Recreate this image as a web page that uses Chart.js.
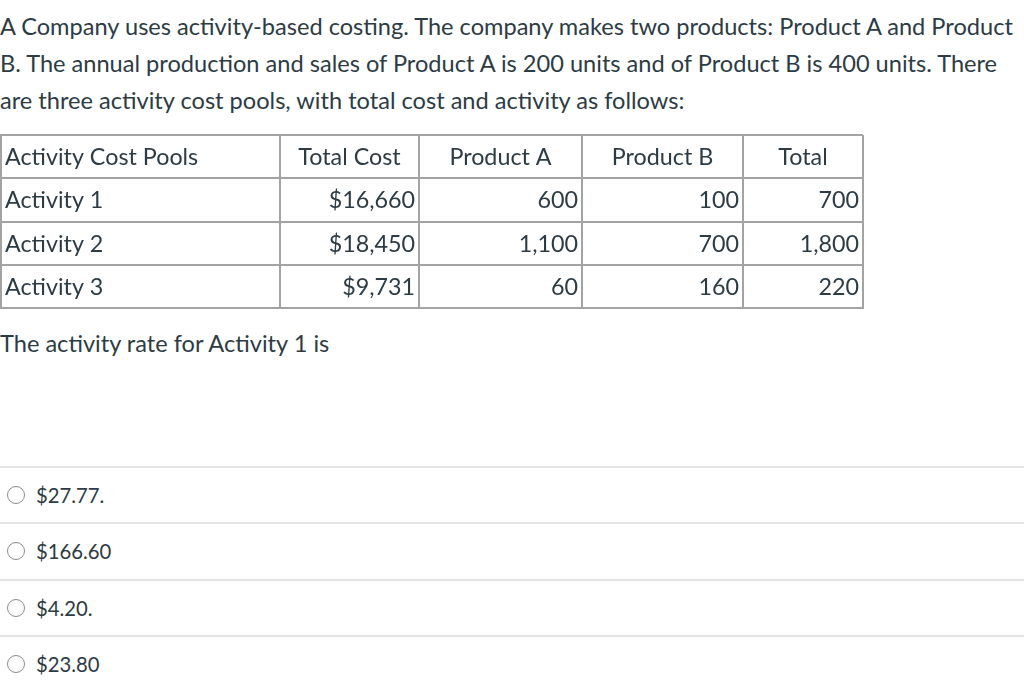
<!DOCTYPE html>
<html>
<head>
<meta charset="utf-8">
<script src="https://cdn.jsdelivr.net/npm/chart.js@4"></script>
<style>
  body { margin: 0; background: #fff; font-family: Lato, "Open Sans", sans-serif; color: #2d3b45; width: 1024px; height: 693px; overflow: hidden; position: relative; }
  #intro { position: absolute; left: 0; top: 8px; font-size: 23.6px; line-height: 37px; white-space: nowrap; }
  #tableWrap { position: absolute; left: 0; top: 134px; width: 864px; height: 175px; }
  #question { position: absolute; left: 0; top: 329px; font-size: 23.6px; line-height: 28px; white-space: nowrap; }
  .answer { position: absolute; left: 0; width: 1024px; height: 56px; border-top: 2px solid #e4e4e4; box-sizing: border-box; font-size: 20.3px; }
  .answer .radio { position: absolute; left: 7px; top: 18px; width: 16px; height: 16px; border: 1.5px solid #8b8b8b; border-radius: 50%; }
  .answer .label { position: absolute; left: 36px; top: 14px; line-height: 26px; }
</style>
</head>
<body>
<div id="intro">A Company uses activity-based costing. The company makes two products: Product A and Product<br>B. The annual production and sales of Product A is 200 units and of Product B is 400 units. There<br>are three activity cost pools, with total cost and activity as follows:</div>
<div id="tableWrap"><canvas id="tableChart"></canvas></div>
<div id="question">The activity rate for Activity 1 is</div>
<div id="answers"></div>
<script>
// table data
const columns = ['Activity Cost Pools', 'Total Cost', 'Product A', 'Product B', 'Total'];
const pools = ['Activity 1', 'Activity 2', 'Activity 3'];
const totalCost = [16660, 18450, 9731];
const productA = [600, 1100, 60];
const productB = [100, 700, 160];
const totals = [700, 1800, 220];
const answers = ['$27.77.', '$166.60', '$4.20.', '$23.80'];

// column edges in table pixels (layout only)
const colEdges = [0, 279, 418, 581, 742, 862];
const lineColor = '#a3a3a3';
const textColor = '#2d3b45';
const cellFont = '23.3px Lato, "Open Sans", sans-serif';

const fmt = v => v.toLocaleString('en-US');
const rows = pools.map((p, i) => [p, '$' + fmt(totalCost[i]), fmt(productA[i]), fmt(productB[i]), fmt(totals[i])]);

// draw cell texts using the chart scales
const cellText = {
    id: 'cellText',
    afterDraw(chart) {
        const ctx = chart.ctx;
        const x = chart.scales.x;
        const y = chart.scales.y;
        ctx.save();
        ctx.font = cellFont;
        ctx.fillStyle = textColor;
        ctx.textBaseline = 'middle';
        const allRows = [columns].concat(rows);
        allRows.forEach((row, r) => {
            const py = y.getPixelForValue(r) + 1;
            row.forEach((txt, c) => {
                const left = x.getPixelForValue(colEdges[c]);
                const right = x.getPixelForValue(colEdges[c + 1]);
                if (c === 0) {
                    ctx.textAlign = 'left';
                    ctx.fillText(txt, left + 4, py);
                } else if (r === 0) {
                    ctx.textAlign = 'center';
                    ctx.fillText(txt, (left + right) / 2, py);
                } else {
                    ctx.textAlign = 'right';
                    ctx.fillText(txt, right - 4, py);
                }
            });
        });
        ctx.restore();
    }
};

const gridOpts = { color: lineColor, lineWidth: 2, drawTicks: false };
const borderOpts = { display: true, color: lineColor, width: 2 };

new Chart(document.getElementById('tableChart'), {
    type: 'scatter',
    data: { labels: [columns[0]].concat(pools), datasets: [] },
    options: {
        responsive: true,
        maintainAspectRatio: false,
        animation: false,
        events: [],
        layout: { padding: 1 },
        plugins: { legend: { display: false }, tooltip: { enabled: false } },
        scales: {
            x: {
                type: 'linear',
                min: colEdges[0],
                max: colEdges[colEdges.length - 1],
                afterBuildTicks: scale => { scale.ticks = colEdges.map(v => ({ value: v })); },
                ticks: { display: false },
                grid: gridOpts,
                border: borderOpts
            },
            y: {
                type: 'category',
                offset: true,
                ticks: { display: false },
                grid: Object.assign({ offset: true }, gridOpts),
                border: borderOpts
            }
        }
    },
    plugins: [cellText]
});

// answer options
const wrap = document.getElementById('answers');
answers.forEach((a, i) => {
    const div = document.createElement('div');
    div.className = 'answer';
    div.style.top = (466 + i * 56.3) + 'px';
    div.innerHTML = '<span class="radio"></span><span class="label">' + a + '</span>';
    wrap.appendChild(div);
});
</script>
</body>
</html>
